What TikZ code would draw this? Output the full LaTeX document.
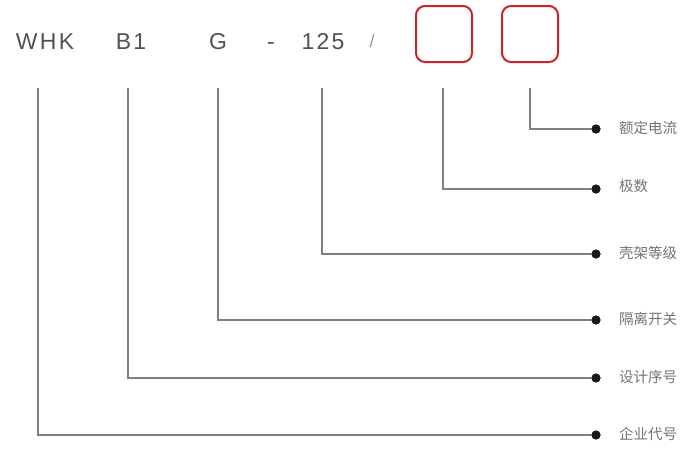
\documentclass[tikz,border=0pt]{standalone}
\usepackage{fontspec}
\setmainfont{Liberation Sans}
\newfontfamily\codefont[LetterSpace=10]{Liberation Sans}
\newfontfamily\cjk{Noto Sans CJK SC}
\definecolor{slotred}{RGB}{204,34,41}
\begin{document}
\begin{tikzpicture}[x=1pt,y=-1pt,
  code/.style={font=\codefont\fontsize{23}{25}\selectfont, text=black!68, inner sep=0pt, anchor=base},
  slot/.style={draw=slotred, line width=2pt, rounded corners=9pt, minimum width=56pt, minimum height=56pt, inner sep=0pt},
  lead/.style={draw=black!50, line width=1.1pt},
  dot/.style={circle, fill=black!90, inner sep=0pt, minimum size=9pt},
  lbl/.style={font=\cjk\fontsize{14.5}{16}\selectfont, text=black!55, anchor=west, inner sep=0pt}]
\useasboundingbox (0,0) rectangle (686,448);
\node[code] (whk) at (45,49) {WHK};
\node[code] (b1) at (131,49) {B1};
\node[code] (g) at (218,49) {G};
\node[code] (dash) at (271,49) {-};
\node[code] (n125) at (323,49) {125};
\node[code, font=\fontsize{18}{20}\selectfont, text=black!40] (sl) at (372,47) {/};
\node[slot] (box1) at (444,34) {};
\node[slot] (box2) at (530,34) {};
% connector starts
\coordinate (s1) at (38,88);
\coordinate (s2) at (128,88);
\coordinate (s3) at (218,88);
\coordinate (s4) at (322,88);
\coordinate (s5) at (443,88);
\coordinate (s6) at (530,88);
% dots
\node[dot] (d6) at (596,129) {};
\node[dot] (d5) at (596,189) {};
\node[dot] (d4) at (596,254) {};
\node[dot] (d3) at (596,320) {};
\node[dot] (d2) at (596,378) {};
\node[dot] (d1) at (596,435) {};
\draw[lead] (s6) |- (d6.center);
\draw[lead] (s5) |- (d5.center);
\draw[lead] (s4) |- (d4.center);
\draw[lead] (s3) |- (d3.center);
\draw[lead] (s2) |- (d2.center);
\draw[lead] (s1) |- (d1.center);
\node[dot] at (d6) {};
\node[dot] at (d5) {};
\node[dot] at (d4) {};
\node[dot] at (d3) {};
\node[dot] at (d2) {};
\node[dot] at (d1) {};
\node[lbl] (l6) at (619,128) {额定电流};
\node[lbl] (l5) at (619,186) {极数};
\node[lbl] (l4) at (619,253) {壳架等级};
\node[lbl] (l3) at (619,319) {隔离开关};
\node[lbl] (l2) at (619,377) {设计序号};
\node[lbl] (l1) at (619,434) {企业代号};
\end{tikzpicture}
\end{document}
